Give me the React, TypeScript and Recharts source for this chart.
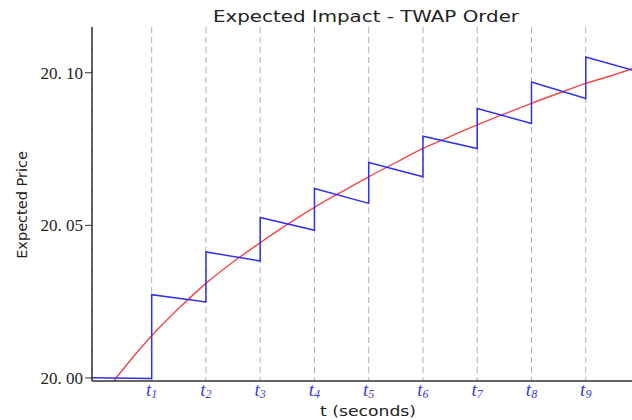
import { LineChart, Line, XAxis, YAxis, CartesianGrid } from 'recharts'

// tick marks (t_k in units of the trading interval)
const T_TICKS = [1, 2, 3, 4, 5, 6, 7, 8, 9]
const T_SUBS = ['1', '2', '3', '4', '5', '6', '7', '8', '9']
const PRICE_TICKS = [20.0, 20.05, 20.1]
const PRICE_LABELS = ['20. 00', '20. 05', '20. 10']

// blue: realised impact, jumps at each child order then decays
const BLUE_T = [-0.1, 1, 1, 2, 2, 3, 3, 4, 4, 5, 5, 6, 6, 7, 7, 8, 8, 9, 9, 10]
const BLUE_PRICE = [
  20.0001, 19.9998, 20.0273, 20.0249, 20.0413, 20.0383, 20.0526, 20.0484, 20.0621, 20.0572,
  20.0706, 20.0659, 20.0792, 20.0752, 20.0883, 20.0834, 20.097, 20.0916, 20.1052, 20.1002,
]

// red: smooth expected price
const RED_T = [0.3, 0.65, 1, 1.5, 2, 2.5, 3, 3.5, 4, 4.5, 5, 5.5, 6, 6.5, 7, 7.5, 8, 8.5, 9, 9.5, 10]
const RED_PRICE = [
  19.999, 20.0067, 20.0138, 20.0228, 20.031, 20.038, 20.0443, 20.0503, 20.0559, 20.061, 20.0659,
  20.0706, 20.0752, 20.0791, 20.0829, 20.0865, 20.09, 20.0933, 20.0965, 20.0992, 20.1022,
]

const blueData = BLUE_T.map((t, i) => ({ t, p: BLUE_PRICE[i] }))
const redData = RED_T.map((t, i) => ({ t, p: RED_PRICE[i] }))

const SANS = '"DejaVu Sans", sans-serif'
const SERIF = '"Liberation Serif", "DejaVu Serif", serif'

function TTick({ x, y, payload }: any) {
  const i = T_TICKS.indexOf(payload.value)
  return (
    <text x={x} y={y + 7} textAnchor="middle" fill="#3a3af0" fontFamily={SERIF} fontStyle="italic" fontSize={19}>
      t<tspan fontSize={12} dy={2}>{T_SUBS[i]}</tspan>
    </text>
  )
}

function PriceTick({ x, y, payload }: any) {
  const i = PRICE_TICKS.indexOf(payload.value)
  return (
    <text x={x} y={y} dy={6} textAnchor="end" fill="#222" fontFamily={SERIF} fontSize={17}>
      {PRICE_LABELS[i]}
    </text>
  )
}

export default function App() {
  return (
    <div style={{ position: 'absolute', left: 0, top: 0, width: 632, height: 420, overflow: 'hidden', background: '#fff' }}>
      <LineChart width={640} height={420} margin={{ top: 27, right: 0, left: 0, bottom: 0 }}>
        <CartesianGrid vertical horizontal={false} stroke="#b0b0b0" strokeDasharray="6 4" />
        <XAxis type="number" dataKey="t" domain={[-0.1, 10]} ticks={T_TICKS} allowDataOverflow
          height={39} tickLine={false} axisLine={{ stroke: '#333', strokeWidth: 1.5 }} tick={<TTick />} />
        <YAxis type="number" domain={[19.999, 20.115]} ticks={PRICE_TICKS} allowDataOverflow
          width={92} tickSize={7} tickLine={{ stroke: '#333' }} axisLine={{ stroke: '#333', strokeWidth: 1.5 }}
          tick={<PriceTick />} />
        <Line data={redData} dataKey="p" type="monotone" stroke="#f04848" strokeWidth={1.4}
          dot={false} isAnimationActive={false} />
        <Line data={blueData} dataKey="p" type="linear" stroke="#3030f0" strokeWidth={1.5}
          dot={false} isAnimationActive={false} />
      </LineChart>
      <svg width={632} height={420} style={{ position: 'absolute', left: 0, top: 0, pointerEvents: 'none' }}>
        <text x={366} y={22} textAnchor="middle" fontFamily={SANS} fontSize={16.5} fill="#222"
          textLength={306} lengthAdjust="spacingAndGlyphs">Expected Impact - TWAP Order</text>
        <text x={368} y={416} textAnchor="middle" fontFamily={SANS} fontSize={14.5} fill="#222"
          textLength={96} lengthAdjust="spacingAndGlyphs">t (seconds)</text>
        <text x={27} y={205} textAnchor="middle" fontFamily={SANS} fontSize={14.5} fill="#222"
          transform="rotate(-90 27 205)">Expected Price</text>
      </svg>
    </div>
  )
}
